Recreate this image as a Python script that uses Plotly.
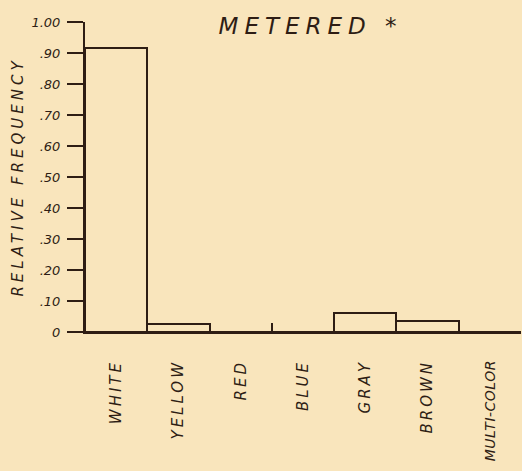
import plotly.graph_objects as go

categories = ["WHITE", "YELLOW", "RED", "BLUE", "GRAY", "BROWN", "MULTI-COLOR"]
rel_freq = [0.915, 0.026, 0.0, 0.0, 0.06, 0.037, 0.0]
y_tickvals = [0, 0.1, 0.2, 0.3, 0.4, 0.5, 0.6, 0.7, 0.8, 0.9, 1.0]
y_ticktext = ["0", ".10", ".20", ".30", ".40", ".50", ".60", ".70", ".80", ".90", "1.00"]
boundary_marks = [2.5, 6.5]

ink = "#2e1d14"
paper = "#f9e5bc"
hand = "DejaVu Sans, sans-serif"


def spaced(text, px, size=None):
    fs = f"font-size:{size}px;" if size else ""
    return f'<span style="{fs}letter-spacing:{px}px">{text}</span>'


def x_label(c):
    # long label is written more compactly in the original
    return spaced(c, 0.5, 14) if len(c) > 8 else spaced(c, 3)


x_idx = list(range(len(categories)))

fig = go.Figure()
fig.add_trace(go.Bar(
    x=x_idx, y=rel_freq, width=1.0,
    marker=dict(color="rgba(0,0,0,0)", line=dict(color=ink, width=2)),
    hoverinfo="skip", showlegend=False,
))
# small boundary tick marks on an overlaid axis
fig.add_trace(go.Scatter(x=boundary_marks, y=[0, 0], mode="markers",
                         marker=dict(opacity=0), xaxis="x2", showlegend=False,
                         hoverinfo="skip"))

fig.update_layout(
    width=522, height=471,
    margin=dict(l=85, r=1, t=22, b=139, autoexpand=False),
    paper_bgcolor=paper, plot_bgcolor=paper,
    font=dict(family=hand, color=ink),
    bargap=0,
    title=dict(text=spaced("METERED *", 6), x=0.595, xanchor="center", y=0.945, yanchor="middle",
               automargin=False,
               font=dict(size=23, style="italic", family=hand, color=ink)),
    xaxis=dict(
        range=[-0.5, 6.5], tickvals=x_idx, ticktext=[x_label(c) for c in categories],
        tickangle=-90, automargin=False,
        showgrid=False, zeroline=False, showline=True, linecolor=ink, linewidth=2,
        ticks="", tickfont=dict(size=15, style="italic", family=hand, color=ink),
        ticklabelstandoff=20, fixedrange=True,
    ),
    xaxis2=dict(
        range=[-0.5, 6.5], overlaying="x", anchor="y", side="bottom",
        tickvals=boundary_marks, ticks="inside", ticklen=9, tickwidth=2, tickcolor=ink,
        showticklabels=False, showgrid=False, zeroline=False, showline=False,
    ),
    yaxis=dict(
        range=[0, 1.0], tickvals=y_tickvals, ticktext=y_ticktext, automargin=False,
        ticks="outside", ticklen=16, tickwidth=2, tickcolor=ink,
        showgrid=False, zeroline=False, showline=True, linecolor=ink, linewidth=2,
        tickfont=dict(size=13, style="italic", family=hand, color=ink),
        ticklabelstandoff=4,
        title=dict(text=spaced("RELATIVE FREQUENCY", 4), standoff=4,
                   font=dict(size=15, style="italic", family=hand, color=ink)),
    ),
)

fig.write_html("out.html", config={"displayModeBar": False},
               post_script="document.body.style.margin='0';")
